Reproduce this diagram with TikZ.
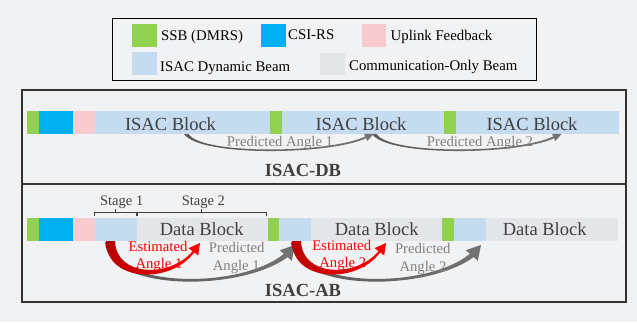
\documentclass[tikz,border=0pt]{standalone}
\usepackage{fontspec}
\setmainfont{Liberation Serif}
\definecolor{bg}{HTML}{F1F2F4}
\definecolor{ssb}{HTML}{92D050}
\definecolor{csi}{HTML}{00B0F0}
\definecolor{ulf}{HTML}{F8CBCE}
\definecolor{isac}{HTML}{C5DCF0}
\definecolor{comm}{HTML}{E4E5E9}
\definecolor{txt}{HTML}{404040}
\definecolor{pred}{HTML}{808080}
\definecolor{frame}{HTML}{333333}
\begin{document}
\begin{tikzpicture}[x=1pt,y=-1pt,
  lg/.style={anchor=base west,inner sep=0pt,font=\fontsize{14.8}{16}\selectfont,text=black},
  blk/.style={anchor=base,inner sep=0pt,font=\fontsize{18.5}{20}\selectfont,text=txt},
  ttl/.style={anchor=base,inner sep=0pt,font=\fontsize{18.5}{20}\selectfont\bfseries,text=txt},
  pr/.style={anchor=base,inner sep=0pt,font=\fontsize{14.7}{16}\selectfont,text=pred},
  est/.style={anchor=base,inner sep=0pt,font=\fontsize{14.7}{16}\selectfont,text=red},
  stg/.style={anchor=base,inner sep=0pt,font=\fontsize{14.5}{16}\selectfont,text=txt},
  frm/.style={draw=frame,line width=2pt},
  brk/.style={draw=txt,line width=0.9pt},
  garrow/.style={left color=black!65,middle color=black!4,right color=black!55,draw=none},
  rarrow/.style={left color=red!72!black,middle color=red,right color=red,draw=none}]
\fill[bg] (0,0) rectangle (637,322);
\useasboundingbox (0,0) rectangle (637,322);

% legend
\draw[black,line width=1pt] (112,18) rectangle (536,80);
\fill[ssb] (132,24) rectangle (157,47);
\node[lg] (lssb) at (161,40) {SSB (DMRS)};
\fill[csi] (261,24) rectangle (286,47);
\node[lg] (lcsi) at (288,39) {CSI-RS};
\fill[ulf] (362,24) rectangle (386,47);
\node[lg] (lulf) at (390.5,40) {Uplink Feedback};
\fill[isac] (132,52) rectangle (157,75);
\node[lg] (lisac) at (160,71.5) {ISAC Dynamic Beam};
\fill[comm] (320,53) rectangle (345,75);
\node[lg] (lcomm) at (349,70) {Communication-Only Beam};

% frames
\draw[frm] (22,90) rectangle (626,302);
\draw[frm] (22,184) -- (626,184);

% ISAC-DB bar
\fill[ssb] (27,111) rectangle (39,134);
\fill[csi] (39,111) rectangle (73,134);
\fill[ulf] (73,111) rectangle (95,134);
\fill[isac] (95,111) rectangle (270,134);
\fill[ssb] (270,111) rectangle (282,134);
\fill[isac] (282,111) rectangle (444,134);
\fill[ssb] (444,111) rectangle (456,134);
\fill[isac] (456,111) rectangle (619,134);
\node[blk] (db1) at (170.5,130) {ISAC Block};
\node[blk] (db2) at (361,130) {ISAC Block};
\node[blk] (db3) at (532,130) {ISAC Block};

% DB arcs
\foreach \s in {0,188}{
\path[garrow,xshift=\s pt] (184,134) .. controls (200,157) and (330,155) .. (366.1,138.2)
  -- (367.4,141) -- (373.5,134) -- (364,133.8) -- (365.3,136.4)
  .. controls (330,153.5) and (202,155) .. (188.5,134) -- cycle;
}
\node[pr] (pa1) at (280,146.5) {Predicted Angle 1};
\node[pr] (pa2) at (480,146) {Predicted Angle 2};
\node[ttl] (tdb) at (303,176.7) {ISAC-DB};

% ISAC-AB bar
\fill[ssb] (27,218) rectangle (39,241);
\fill[csi] (39,218) rectangle (73,241);
\fill[ulf] (73,218) rectangle (95,241);
\fill[isac] (95,218) rectangle (137,241);
\fill[comm] (137,218) rectangle (268,241);
\fill[ssb] (268,218) rectangle (279,241);
\fill[isac] (279,218) rectangle (311,241);
\fill[comm] (311,218) rectangle (442,241);
\fill[ssb] (442,218) rectangle (454,241);
\fill[isac] (454,218) rectangle (486,241);
\fill[comm] (486,218) rectangle (618,241);
\node[blk] (ab1) at (201.7,235) {Data Block};
\node[blk] (ab2) at (376.7,235) {Data Block};
\node[blk] (ab3) at (544.7,235) {Data Block};

% stage brackets
\draw[brk] (94.3,216) -- (94.3,212.5) -- (136,212.5) -- (136,216);
\draw[brk] (115,212.5) -- (115,208.5);
\draw[brk] (137.5,216) -- (137.5,212.5) -- (266.7,212.5) -- (266.7,216);
\draw[brk] (201.7,212.5) -- (201.7,208.5);
\node[stg] (st1) at (121.7,205) {Stage 1};
\node[stg] (st2) at (203.3,205) {Stage 2};

% AB arrows
\foreach \s in {0,186}{
\path[garrow,xshift=\s pt] (105,242) .. controls (108,292) and (240,292) .. (287.7,257.1)
  -- (291.8,260.8) -- (295,245) -- (279.8,250.2) -- (283.9,253.8)
  .. controls (240,290) and (112,288) .. (111,242) -- cycle;
\path[rarrow,xshift=\s pt] (106,241) .. controls (106,282) and (170,285) .. (194.2,252.4)
  -- (198.2,255.4) -- (200,243) -- (188.6,248.2) -- (192.6,251.2)
  .. controls (170,278) and (116,277) .. (115,241) -- cycle;
}
\node[est] (e1a) at (158,251.7) {Estimated};
\node[est] (e1b) at (159,268) {Angle 1};
\node[pr] (p1a) at (236.7,252.5) {Predicted};
\node[pr] (p1b) at (236.3,270.5) {Angle 1};
\node[est] (e2a) at (341.7,250.5) {Estimated};
\node[est] (e2b) at (342.8,267) {Angle 2};
\node[pr] (p2a) at (422.8,253.3) {Predicted};
\node[pr] (p2b) at (423,271.5) {Angle 2};
\node[ttl] (tab) at (303,296) {ISAC-AB};
\end{tikzpicture}
\end{document}
